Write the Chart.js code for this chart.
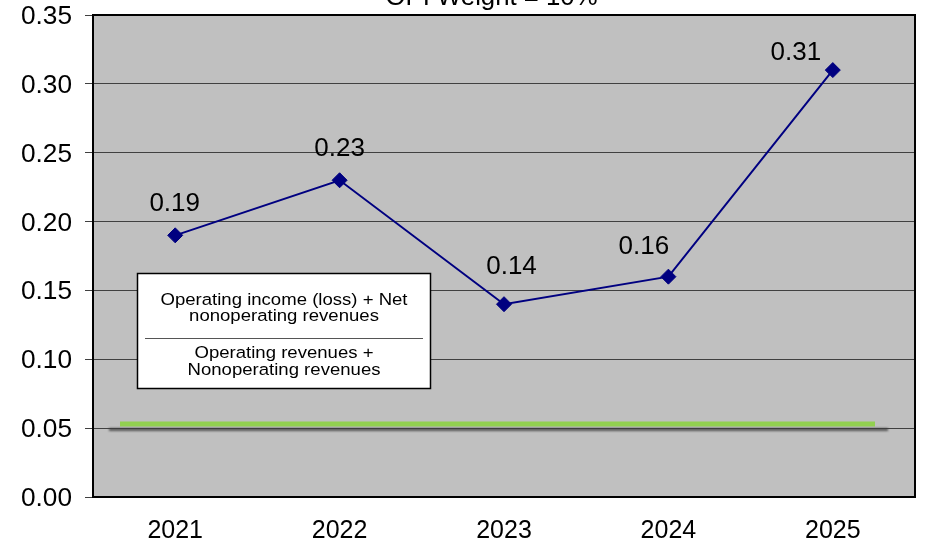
<!DOCTYPE html>
<html>
<head>
<meta charset="utf-8">
<script src="https://cdn.jsdelivr.net/npm/chart.js@4/dist/chart.umd.min.js"></script>
<style>
  html, body { margin: 0; padding: 0; background: #ffffff; }
  #wrap { width: 925px; height: 544px; position: relative; }
</style>
</head>
<body>
<div id="wrap"><canvas id="c" width="925" height="544"></canvas></div>
<script>
// Operating margin ratio by fiscal year
const years = ['2021', '2022', '2023', '2024', '2025'];
const ratioValues = [0.19, 0.23, 0.14, 0.16, 0.31];
const benchmarkValue = 0.053;
const yTicks = [0.00, 0.05, 0.10, 0.15, 0.20, 0.25, 0.30, 0.35];
const titleText = 'OPI Weight = 10%';
const formulaTop = ['Operating income (loss) + Net', 'nonoperating revenues'];
const formulaBottom = ['Operating revenues +', 'Nonoperating revenues'];

// hand-placed label nudges (dx, dy of the text baseline from each marker)
const labelNudges = [[-0.5, -24], [0, -24], [7.5, -30], [-24.5, -22.5], [-37, -10]];

const FONT = '"Liberation Sans", Arial, sans-serif';

// text drawn slightly wider than the face's natural width
function wideText(ctx, text, x, y, size, stretch, align) {
  ctx.save();
  ctx.font = size + 'px ' + FONT;
  ctx.textAlign = align || 'center';
  ctx.textBaseline = 'alphabetic';
  ctx.translate(x, y);
  ctx.scale(stretch, 1);
  ctx.fillText(text, 0, 0);
  ctx.restore();
}

const decorPlugin = {
  id: 'decor',
  beforeDraw(chart) {
    const { ctx, chartArea: a } = chart;
    ctx.save();
    ctx.fillStyle = '#C0C0C0';
    ctx.fillRect(a.left, a.top, a.right - a.left, a.bottom - a.top);
    ctx.restore();
  },
  beforeDatasetsDraw(chart) {
    const { ctx, chartArea: a, scales } = chart;
    const y = scales.y.getPixelForValue(benchmarkValue);
    ctx.save();
    // soft shadow under the benchmark line
    ctx.filter = 'blur(1px)';
    ctx.strokeStyle = 'rgba(60,60,60,0.8)';
    ctx.lineWidth = 3;
    ctx.beginPath();
    ctx.moveTo(a.left + 16, y + 5.5);
    ctx.lineTo(a.right - 27, y + 5.5);
    ctx.stroke();
    ctx.filter = 'none';
    ctx.strokeStyle = '#92D050';
    ctx.lineWidth = 5;
    ctx.beginPath();
    ctx.moveTo(a.left + 27, y);
    ctx.lineTo(a.right - 40, y);
    ctx.stroke();
    ctx.restore();
  },
  afterDatasetsDraw(chart) {
    const { ctx, chartArea: a, scales } = chart;
    ctx.save();
    // plot border
    ctx.strokeStyle = '#000000';
    ctx.lineWidth = 2;
    ctx.strokeRect(a.left, a.top, a.right - a.left, a.bottom - a.top);
    ctx.fillStyle = '#000000';

    // axis labels
    yTicks.forEach(v => {
      const py = scales.y.getPixelForValue(v);
      wideText(ctx, v.toFixed(2), 72, py + 9, 25, 1.05, 'right');
    });
    years.forEach((lab, i) => {
      const px = scales.x.getPixelForValue(i);
      wideText(ctx, lab, px, 538, 25, 1.0, 'center');
    });

    // value labels
    const meta = chart.getDatasetMeta(0);
    meta.data.forEach((pt, i) => {
      const [dx, dy] = labelNudges[i];
      wideText(ctx, ratioValues[i].toFixed(2), pt.x + dx, pt.y + dy, 25.5, 1.02, 'center');
    });

    // title, partly above the canvas edge
    wideText(ctx, titleText, 491.5, 5, 25, 1.03, 'center');

    // formula box
    const bx = 137.5, by = 273.5, bw = 293, bh = 115;
    ctx.fillStyle = '#ffffff';
    ctx.fillRect(bx, by, bw, bh);
    ctx.strokeStyle = '#000000';
    ctx.lineWidth = 1.5;
    ctx.strokeRect(bx, by, bw, bh);
    ctx.fillStyle = '#000000';
    const cx = bx + bw / 2;
    wideText(ctx, formulaTop[0], cx, 305, 16.3, 1.14);
    wideText(ctx, formulaTop[1], cx, 320.5, 16.3, 1.14);
    wideText(ctx, formulaBottom[0], cx, 358, 16.3, 1.14);
    wideText(ctx, formulaBottom[1], cx, 375, 16.3, 1.14);
    ctx.strokeStyle = '#555555';
    ctx.lineWidth = 1;
    ctx.beginPath();
    ctx.moveTo(145, 338.5);
    ctx.lineTo(423, 338.5);
    ctx.stroke();
    ctx.restore();
  }
};

new Chart(document.getElementById('c'), {
  type: 'line',
  data: {
    labels: years,
    datasets: [{
      data: ratioValues,
      borderColor: '#000080',
      backgroundColor: '#000080',
      borderWidth: 2,
      pointStyle: 'rectRot',
      pointRadius: 7.5,
      pointHoverRadius: 7.5,
      pointBorderWidth: 1,
      tension: 0
    }]
  },
  options: {
    responsive: false,
    animation: false,
    events: [],
    layout: { padding: { top: 15, right: 10, left: 0, bottom: 0 } },
    plugins: { legend: { display: false }, tooltip: { enabled: false }, title: { display: false } },
    scales: {
      x: {
        offset: true,
        grid: { display: false, drawTicks: false },
        border: { display: false },
        ticks: { display: false },
        afterFit(s) { s.height = 47; }
      },
      y: {
        min: 0, max: 0.35,
        afterBuildTicks(s) { s.ticks = yTicks.map(v => ({ value: v })); },
        grid: { color: '#404040', lineWidth: 1, tickLength: 8, drawTicks: true },
        border: { display: false },
        ticks: { display: false },
        afterFit(s) { s.width = 93; }
      }
    }
  },
  plugins: [decorPlugin]
});
</script>
</body>
</html>
